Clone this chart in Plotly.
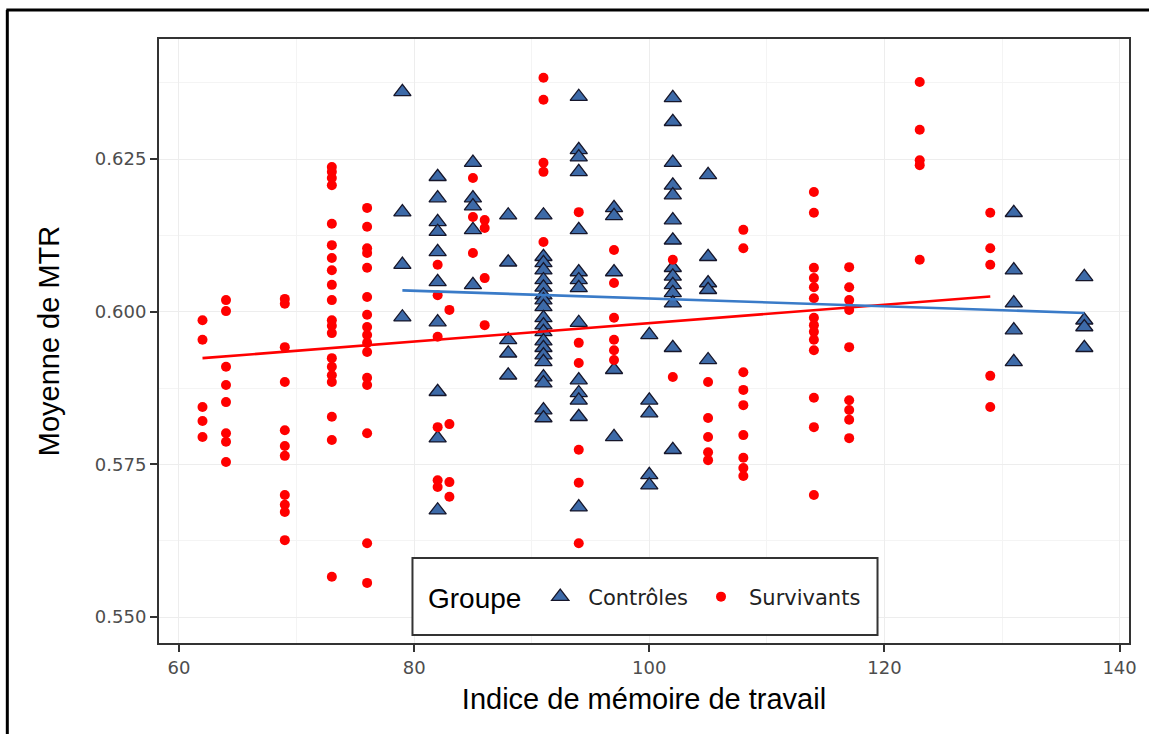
import plotly.graph_objects as go

# ---------------- data ----------------
ctrl_x = ([79]*4 + [82]*10 + [85]*5 + [88]*5 + [91]*20 + [94]*14 + [97]*5 +
          [100]*5 + [102]*14 + [105]*5 + [131]*5 + [137]*4)
ctrl_y = [
    0.6360, 0.6163, 0.6077, 0.5991,
    0.6221, 0.6186, 0.6147, 0.6131, 0.6098, 0.6049, 0.5983, 0.5869, 0.5793, 0.5675,
    0.6244, 0.6186, 0.6173, 0.6134, 0.6044,
    0.6158, 0.6081, 0.5954, 0.5932, 0.5896,
    0.6158, 0.6090, 0.6080, 0.6068, 0.6052, 0.6040, 0.6027, 0.6019, 0.6008, 0.5990,
    0.5978, 0.5967, 0.5952, 0.5941, 0.5929, 0.5918, 0.5893, 0.5883, 0.5839, 0.5826,
    0.6352, 0.6265, 0.6253, 0.6229, 0.6134, 0.6065, 0.6052, 0.6039, 0.5982, 0.5888,
    0.5867, 0.5855, 0.5828, 0.5680,
    0.6170, 0.6157, 0.6065, 0.5905, 0.5795,
    0.5962, 0.5855, 0.5834, 0.5733, 0.5716,
    0.6350, 0.6311, 0.6244, 0.6207, 0.6191, 0.6150, 0.6117, 0.6072, 0.6058, 0.6044,
    0.6031, 0.6014, 0.5941, 0.5774,
    0.6224, 0.6090, 0.6047, 0.6036, 0.5921,
    0.6162, 0.6068, 0.6014, 0.5970, 0.5918,
    0.6057, 0.5986, 0.5975, 0.5941,
]

surv_x = ([62]*5 + [64]*8 + [69]*11 + [73]*20 + [76]*16 + [82]*6 + [83]*4 +
          [85]*3 + [86]*4 + [91]*5 + [94]*6 + [97]*6 + [102]*2 + [105]*5 +
          [108]*9 + [114]*14 + [117]*9 + [123]*5 + [129]*5)
surv_y = [
    0.5986, 0.5954, 0.5844, 0.5821, 0.5795,
    0.6019, 0.6001, 0.5910, 0.5880, 0.5852, 0.5801, 0.5787, 0.5754,
    0.6021, 0.6013, 0.5942, 0.5885, 0.5806, 0.5780, 0.5764, 0.5700, 0.5684, 0.5672, 0.5626,
    0.6237, 0.6229, 0.6219, 0.6207, 0.6144, 0.6109, 0.6088, 0.6068, 0.6044, 0.6019,
    0.5986, 0.5977, 0.5965, 0.5924, 0.5910, 0.5896, 0.5885, 0.5828, 0.5790, 0.5566,
    0.6170, 0.6139, 0.6104, 0.6096, 0.6072, 0.6024, 0.5995, 0.5975, 0.5962, 0.5949,
    0.5934, 0.5892, 0.5880, 0.5801, 0.5621, 0.5556,
    0.6077, 0.6027, 0.5959, 0.5811, 0.5724, 0.5713,
    0.6003, 0.5816, 0.5721, 0.5697,
    0.6219, 0.6155, 0.6096,
    0.6150, 0.6137, 0.6055, 0.5978,
    0.6383, 0.6347, 0.6244, 0.6229, 0.6114,
    0.6163, 0.5949, 0.5916, 0.5774, 0.5720, 0.5621,
    0.6101, 0.6047, 0.5990, 0.5954, 0.5937, 0.5921,
    0.6085, 0.5893,
    0.5885, 0.5826, 0.5795, 0.5770, 0.5757,
    0.6134, 0.6104, 0.5901, 0.5872, 0.5847, 0.5798, 0.5761, 0.5744, 0.5731,
    0.6196, 0.6162, 0.6072, 0.6055, 0.6040, 0.6022, 0.5990, 0.5978, 0.5967, 0.5954,
    0.5937, 0.5859, 0.5811, 0.5700,
    0.6073, 0.6040, 0.6019, 0.6003, 0.5942, 0.5855, 0.5839, 0.5823, 0.5793,
    0.6376, 0.6298, 0.6248, 0.6240, 0.6085,
    0.6162, 0.6104, 0.6077, 0.5895, 0.5844,
]

# linear-fit lines (ends of each group's x range)
surv_fit_x = [62, 129]
surv_fit_y = [0.5924, 0.6025]
ctrl_fit_x = [79, 137]
ctrl_fit_y = [0.6035, 0.5998]

group_names = ["Contrôles", "Survivants"]
legend_title = "Groupe"
x_ticks = [60, 80, 100, 120, 140]
y_ticks = [0.550, 0.575, 0.600, 0.625]
y_tick_labels = ["0.550", "0.575", "0.600", "0.625"]

# ---------------- styles ----------------
RED = "#FF0000"
BLUE_FILL = "#3d6aa8"
BLUE_LINE = "#3a7bc8"
TITLE_FONT = "Liberation Sans, Arial, sans-serif"
SMALL_FONT = "DejaVu Sans, Liberation Sans, sans-serif"

fig = go.Figure()

fig.add_trace(go.Scatter(
    x=ctrl_x, y=ctrl_y, mode="markers", name=group_names[0],
    marker=dict(symbol="triangle-up", size=15, color=BLUE_FILL,
                line=dict(color="#16162a", width=1.3)),
))
fig.add_trace(go.Scatter(
    x=surv_x, y=surv_y, mode="markers", name=group_names[1],
    marker=dict(symbol="circle", size=10, color=RED, line=dict(width=0)),
))
fig.add_trace(go.Scatter(x=surv_fit_x, y=surv_fit_y, mode="lines", showlegend=False,
                         line=dict(color=RED, width=2.6), hoverinfo="skip"))
fig.add_trace(go.Scatter(x=ctrl_fit_x, y=ctrl_fit_y, mode="lines", showlegend=False,
                         line=dict(color=BLUE_LINE, width=2.6), hoverinfo="skip"))

W, H = 1149, 734
L, R, T, B = 159, 18, 39, 91
pw, ph = W - L - R, H - T - B

def px_to_paper_x(px):
    return (px - L) / pw

def px_to_paper_y(py):
    return (H - B - py) / ph

shapes = [
    # legend box
    dict(type="rect", xref="paper", yref="paper", layer="above",
         x0=px_to_paper_x(413), x1=px_to_paper_x(879),
         y0=px_to_paper_y(635), y1=px_to_paper_y(558),
         fillcolor="white", line=dict(color="#333333", width=2)),
    # outer frame (left and top)
    dict(type="line", xref="paper", yref="paper",
         x0=px_to_paper_x(7), x1=px_to_paper_x(7),
         y0=px_to_paper_y(10), y1=px_to_paper_y(740),
         line=dict(color="black", width=3)),
    dict(type="line", xref="paper", yref="paper",
         x0=px_to_paper_x(6), x1=px_to_paper_x(1160),
         y0=px_to_paper_y(10), y1=px_to_paper_y(10),
         line=dict(color="black", width=3)),
]

annotations = [
    dict(text=legend_title, xref="paper", yref="paper", showarrow=False,
         x=px_to_paper_x(427), xanchor="left",
         y=px_to_paper_y(598), yanchor="middle",
         font=dict(family=TITLE_FONT, size=28, color="black")),
]

axis_common = dict(
    showline=True, linecolor="#333333", linewidth=2, mirror=True,
    ticks="outside", ticklen=7, tickwidth=1.5, tickcolor="#333333",
    showgrid=True, gridcolor="#ededed", gridwidth=1.3,
    zeroline=False,
    tickfont=dict(family=SMALL_FONT, size=18, color="#4d4d4d"),
)

fig.update_layout(
    width=W, height=H,
    margin=dict(l=L, r=R, t=T, b=B),
    paper_bgcolor="white", plot_bgcolor="white",
    shapes=shapes,
    annotations=annotations,
    xaxis=dict(range=[58.3, 140.8], tickvals=x_ticks,
               title=dict(text="Indice de mémoire de travail",
                          font=dict(family=TITLE_FONT, size=29, color="black"),
                          standoff=12),
               minor=dict(tickvals=[70, 90, 110, 130], showgrid=True,
                          gridcolor="#f4f4f4", gridwidth=0.8, ticks=""),
               **axis_common),
    yaxis=dict(range=[0.54576, 0.64465], tickvals=y_ticks, ticktext=y_tick_labels,
               title=dict(text="Moyenne de MTR",
                          font=dict(family=TITLE_FONT, size=29, color="black"),
                          standoff=27),
               minor=dict(tickvals=[0.5625, 0.5875, 0.6125, 0.6375], showgrid=True,
                          gridcolor="#f4f4f4", gridwidth=0.8, ticks=""),
               **axis_common),
    legend=dict(
        orientation="h",
        x=px_to_paper_x(533), xanchor="left",
        y=px_to_paper_y(597), yanchor="middle",
        bgcolor="rgba(0,0,0,0)", borderwidth=0,
        font=dict(family=SMALL_FONT, size=21, color="#222222"),
        itemwidth=46,
        tracegroupgap=0,
    ),
    showlegend=True,
)

fig.write_html("out.html")
